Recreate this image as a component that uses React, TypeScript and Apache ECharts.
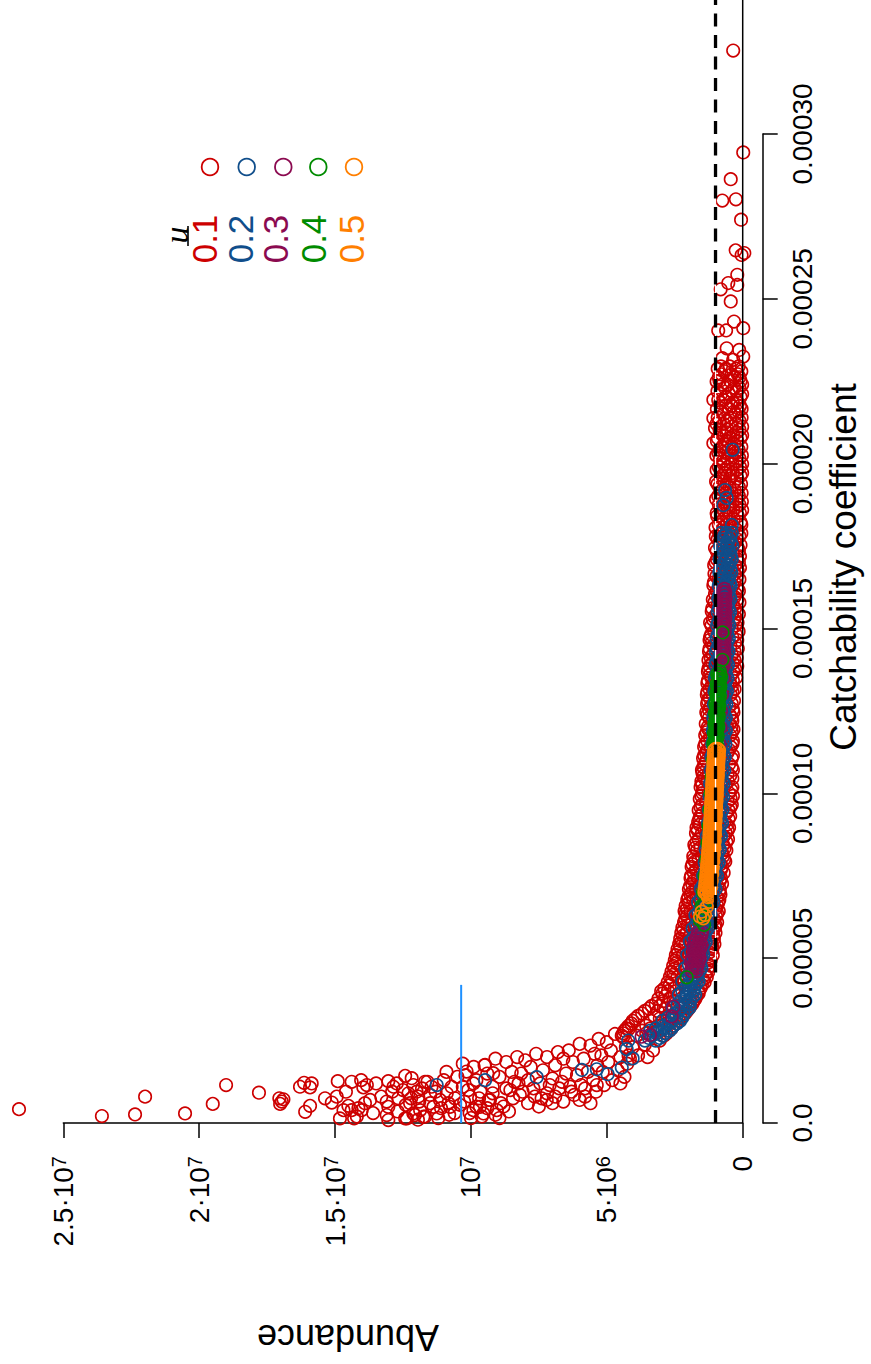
import { useEffect, useRef } from "react";
import * as echarts from "echarts";

// Units: abundance in millions of individuals, catchability in units of 1e-5.
type Pt = [number, number]; // [abundance, catchability]
type Row = [number, number[]]; // [catchability, abundances observed at it]

const FONT = "'Liberation Sans', Arial, Helvetica, sans-serif";

const uLevels = ["0.1", "0.2", "0.3", "0.4", "0.5"];
const uColors = ["#CD0000", "#104E8B", "#8B0A50", "#008B00", "#FF7F00"];

// ---- u = 0.1 ----
const redSparse: Pt[] = [
  [0.35, 32.53], [-0.02, 29.44], [0.44, 28.63], [0.75, 27.98], [0.25, 28.02], [0.06, 27.4],
  [0.26, 26.47], [0.04, 26.33], [-0.06, 26.39], [0.2, 25.73], [0.81, 25.29], [0.53, 25.48],
  [0.2, 25.42], [0.44, 24.92], [0.32, 24.31], [-0.02, 24.11], [0.9, 24.04], [0.61, 24.04],
  [0.59, 23.5], [0.13, 23.45], [-0.02, 23.25], [0.75, 23.2], [0.35, 23.15], [0.96, 22.49],
  [1.08, 21.94], [1.08, 21.38], [1.02, 21.08], [1.08, 20.62],
];
const redRows: Row[] = [
  [22.95, [0.15, 0.48, 0.8]], [22.8, [0.05, 0.66]], [22.62, [0.3, 0.88, 0.12]], [22.4, [0.55, 0.02, 0.74]],
  [22.2, [0.22, 0.93, 0.41]], [22.02, [0.08, 0.63]], [21.85, [0.36, 0.82, 0.18]], [21.66, [0.5, 0.04, 0.95]],
  [21.5, [0.27, 0.7]], [21.3, [0.12, 0.58, 0.86]], [21.12, [0.4, 0.02]], [20.95, [0.22, 0.77, 0.6]],
  [20.78, [0.08, 0.46, 0.92]], [20.6, [0.31, 0.68]], [20.42, [0.15, 0.52, 0.85]], [20.25, [0.03, 0.4, 0.97]],
  [20.08, [0.25, 0.72]], [19.9, [0.1, 0.55, 0.88]], [19.72, [0.36, 0.02, 0.66]], [19.55, [0.2, 0.8, 0.47]],
  [19.38, [0.06, 0.6, 0.93]], [19.2, [0.3, 0.75]], [19.02, [0.14, 0.5, 0.9]], [18.85, [0.03, 0.38, 0.68]],
  [18.68, [0.24, 0.82, 0.56]], [18.5, [0.1, 0.45, 0.96]], [18.32, [0.33, 0.7]], [18.15, [0.05, 0.58, 0.88]],
  [17.98, [0.2, 0.42, 0.77]], [17.8, [0.12, 0.62, 0.99]], [17.62, [0.28, 0.85]], [17.45, [0.18, 0.5, 1.02]],
  [17.28, [0.36, 0.74]], [17.1, [0.2, 0.95, 0.6]], [16.92, [0.28, 0.83, 1.05]], [16.75, [0.18, 0.55]],
  [16.58, [0.4, 0.97, 0.22]], [16.4, [0.7, 1.06, 0.3]], [16.22, [0.19, 0.88]], [16.05, [0.45, 1.02, 0.26]],
  [15.88, [0.62, 0.2, 1.1]], [15.7, [0.35, 0.92]], [15.52, [0.22, 0.8, 1.14]], [15.35, [0.5, 1.05, 0.28]],
  [15.18, [0.19, 0.7, 1.2]], [15.0, [0.4, 0.95]], [14.82, [0.25, 1.16, 0.62]], [14.65, [0.2, 0.85, 1.22]],
  [14.48, [0.45, 1.08]], [14.3, [0.3, 0.7, 1.24]], [14.12, [0.22, 0.98, 1.18]], [13.95, [0.52, 1.12, 0.36]],
  [13.78, [0.28, 0.88, 1.26]], [13.6, [0.42, 1.2]], [13.42, [0.36, 0.75, 1.28]], [13.25, [0.55, 1.15, 0.4]],
  [13.08, [0.38, 0.95, 1.3]], [12.9, [0.62, 1.22]], [12.72, [0.4, 1.05, 1.31]], [12.55, [0.36, 0.8, 1.25]],
  [12.38, [0.48, 1.3, 0.95]], [12.2, [0.38, 1.12]], [12.02, [0.58, 1.28, 0.42]], [11.85, [0.4, 0.9, 1.33]],
  [11.68, [0.65, 1.2]], [11.5, [0.38, 1.08, 1.38]], [11.32, [0.5, 1.3, 0.85]], [11.15, [0.36, 1.18, 1.42]],
  [10.98, [0.7, 1.35]], [10.8, [0.4, 1.0, 1.45]], [10.62, [0.55, 1.25, 1.48]], [10.45, [0.38, 0.92, 1.4]],
  [10.28, [0.62, 1.5]], [10.1, [0.42, 1.15, 1.46]], [9.92, [0.36, 0.8, 1.52]], [9.75, [0.55, 1.35]],
  [9.58, [0.45, 1.05, 1.55]], [9.4, [0.6, 1.48, 1.25]], [9.22, [0.52, 1.6]], [9.05, [0.58, 0.95, 1.58]],
  [8.88, [0.55, 1.4, 1.66]], [8.7, [0.7, 1.25]], [8.52, [0.6, 1.12, 1.7]], [8.35, [0.66, 1.55, 1.74]],
  [8.18, [0.75, 1.3]], [8.0, [0.68, 1.62, 1.8]], [7.85, [0.82, 1.45, 1.85]], [7.68, [0.8, 1.72]],
  [7.5, [0.88, 1.35, 1.9]], [7.35, [0.84, 1.8]], [7.18, [0.92, 1.58, 1.94]], [7.0, [0.86, 1.88, 1.25]],
  [6.85, [0.95, 1.7, 2.0]], [6.68, [0.9, 1.98]], [6.5, [1.0, 1.55, 2.05]], [6.35, [0.94, 2.1, 1.8]],
  [6.18, [1.05, 1.65, 2.12]], [6.0, [1.0, 2.02]], [5.85, [1.1, 1.75, 2.18]], [5.68, [1.08, 2.2, 1.95]],
  [5.5, [1.15, 1.62, 2.25]], [5.35, [1.12, 2.3]], [5.18, [1.22, 1.85, 2.38]], [5.0, [1.2, 2.42, 2.05]],
  [4.85, [1.3, 1.7, 2.45]], [4.68, [1.28, 2.5]], [4.5, [1.38, 2.1, 2.55]], [4.35, [1.45, 2.6, 2.25]],
  [4.18, [1.5, 1.98, 2.68]], [4.0, [1.62, 2.75, 3.0]], [3.85, [1.7, 2.35, 2.85]], [3.7, [1.8, 2.92, 2.55]],
  [3.55, [1.92, 2.4, 3.05, 3.35]], [3.4, [2.05, 2.6, 3.12, 3.6]], [3.25, [2.2, 2.7, 3.25, 3.85]],
  [3.1, [2.35, 2.95, 3.4, 4.05]], [2.95, [2.55, 3.1, 3.55, 4.2]], [2.8, [2.7, 3.7, 4.35]],
  [2.65, [2.9, 3.35, 3.9, 4.45]],
];
const redRowsB: Row[] = [
  [22.88, [0.25, 0.62, 0.92]], [22.71, [0.4, 0.78, 0.18]], [22.51, [0.08, 0.46, 0.85]], [22.3, [0.3, 0.65, 0.12]],
  [22.11, [0.5, 0.8, 0.02]], [21.93, [0.24, 0.7, 0.9]], [21.75, [0.1, 0.62, 0.42]], [21.58, [0.32, 0.78, 0.16]],
  [21.4, [0.04, 0.45, 0.92]], [21.21, [0.25, 0.7, 0.96]], [21.03, [0.12, 0.55, 0.85]], [20.86, [0.35, 0.02, 0.68]],
  [20.69, [0.2, 0.58, 0.95]], [20.51, [0.05, 0.4, 0.76]], [20.33, [0.28, 0.65, 0.9]], [20.16, [0.12, 0.55, 0.84]],
  [19.99, [0.38, 0.02, 0.7]], [19.81, [0.22, 0.62, 0.96]], [19.63, [0.08, 0.44, 0.75]], [19.46, [0.3, 0.68, 0.98]],
  [19.29, [0.14, 0.48, 0.86]], [19.11, [0.04, 0.62, 0.4]], [18.93, [0.24, 0.78, 0.98]], [18.76, [0.12, 0.5, 0.88]],
  [18.59, [0.35, 0.7, 0.02]], [18.41, [0.18, 0.6, 0.94]], [18.23, [0.08, 0.46, 0.8]], [18.06, [0.3, 0.7, 1.0]],
  [17.89, [0.05, 0.5, 0.86]], [17.71, [0.22, 0.4, 0.92]], [17.53, [0.08, 0.68, 0.35]], [17.36, [0.14, 0.58, 0.96]],
  [17.19, [0.1, 0.46, 0.82]], [17.01, [0.14, 0.52, 1.0]], [16.84, [0.4, 0.7, 0.1]], [16.66, [0.3, 0.78, 1.04]],
  [16.49, [0.12, 0.5, 0.88]], [16.31, [0.36, 0.6, 1.08]], [16.14, [0.14, 0.74, 0.95]], [15.96, [0.3, 0.52, 0.86]],
  [15.79, [0.12, 0.45, 1.04]], [15.61, [0.28, 0.66, 1.12]], [15.44, [0.14, 0.4, 0.96]], [15.27, [0.32, 0.88, 1.1]],
  [15.09, [0.26, 0.55, 1.15]], [14.91, [0.15, 0.8, 1.05]], [14.74, [0.38, 0.7, 1.2]], [14.56, [0.28, 0.95, 1.15]],
  [14.39, [0.18, 0.6, 1.22]], [14.21, [0.4, 0.85, 1.1]], [14.04, [0.3, 0.7, 1.26]], [13.86, [0.2, 1.0, 1.22]],
  [13.69, [0.34, 0.66, 1.28]], [13.51, [0.24, 0.92, 1.16]], [13.34, [0.46, 1.05, 1.3]], [13.16, [0.3, 0.7, 1.22]],
  [12.99, [0.44, 1.1, 1.32]], [12.81, [0.32, 0.9, 1.28]], [12.63, [0.5, 1.18, 0.7]], [12.46, [0.34, 1.08, 1.34]],
  [12.29, [0.4, 0.7, 1.24]], [12.11, [0.48, 1.05, 1.36]], [11.94, [0.34, 0.72, 1.26]], [11.76, [0.46, 1.12, 1.38]],
  [11.59, [0.36, 0.82, 1.3]], [11.41, [0.44, 1.18, 1.42]], [11.23, [0.56, 0.98, 1.35]], [11.06, [0.4, 1.12, 1.46]],
  [10.89, [0.5, 0.86, 1.4]], [10.71, [0.36, 1.15, 1.5]], [10.53, [0.46, 1.05, 1.44]], [10.36, [0.54, 1.3, 1.52]],
  [10.19, [0.38, 0.86, 1.55]], [10.01, [0.5, 1.25, 1.48]], [9.83, [0.44, 1.1, 1.58]], [9.66, [0.4, 0.92, 1.5]],
  [9.49, [0.52, 1.3, 1.62]], [9.31, [0.46, 0.88, 1.56]], [9.13, [0.66, 1.38, 1.64]], [8.96, [0.5, 1.1, 1.7]],
  [8.79, [0.62, 1.5, 1.72]], [8.61, [0.54, 0.98, 1.62]], [8.44, [0.72, 1.4, 1.78]], [8.27, [0.6, 1.2, 1.68]],
  [8.09, [0.72, 1.5, 1.82]], [7.93, [0.64, 1.3, 1.76]], [7.77, [0.76, 1.58, 1.88]], [7.59, [0.7, 1.22, 1.8]],
  [7.43, [0.8, 1.65, 1.92]], [7.26, [0.76, 1.45, 1.86]], [7.09, [0.84, 1.72, 1.98]], [6.93, [0.82, 1.5, 1.92]],
  [6.77, [0.86, 1.82, 2.04]], [6.59, [0.94, 1.65, 2.1]], [6.43, [0.88, 1.92, 2.14]], [6.27, [0.98, 1.55, 2.06]],
  [6.09, [0.94, 1.86, 2.16]], [5.93, [1.02, 1.68, 2.22]], [5.77, [1.0, 2.06, 2.26]], [5.59, [1.06, 1.85, 2.3]],
  [5.43, [1.04, 2.1, 2.34]], [5.27, [1.12, 1.7, 2.4]], [5.09, [1.1, 2.2, 2.46]], [4.93, [1.18, 1.95, 2.5]],
  [4.77, [1.2, 2.3, 2.56]], [4.59, [1.26, 1.9, 2.62]], [4.43, [1.32, 2.4, 2.68]], [4.27, [1.4, 2.15, 2.76]],
  [4.09, [1.55, 2.5, 2.88]], [3.93, [1.62, 2.1, 2.95]], [3.77, [1.74, 2.7, 3.1]], [3.62, [1.85, 2.2, 3.2]],
  [3.47, [1.98, 2.85, 3.45]], [3.32, [2.12, 2.5, 3.7]], [3.17, [2.28, 3.05, 3.95]], [3.02, [2.45, 2.8, 4.1]],
  [2.87, [2.62, 3.4, 4.28]], [2.72, [2.8, 3.55, 4.4]],
];
const redTail: Pt[] = [
  [3.05, 2.5], [3.6, 2.38], [4.05, 2.3], [3.3, 2.2], [3.85, 2.05], [4.15, 1.95], [3.5, 2.0],
  [4.2, 2.85], [4.4, 2.6], [4.7, 2.7], [5.0, 2.45], [4.3, 2.3], [4.85, 2.2], [5.2, 2.05], [4.5, 2.0],
  [4.25, 1.8], [4.95, 1.85], [4.6, 1.6], [5.15, 1.55], [4.35, 1.4], [4.8, 1.3], [5.1, 1.15], [4.5, 1.2], [4.2, 2.05],
  [5.3, 2.55], [5.6, 2.35], [6.0, 2.4], [6.4, 2.2], [5.45, 2.1], [5.85, 1.95], [6.25, 1.85], [6.6, 1.95],
  [5.35, 1.75], [5.7, 1.55], [6.1, 1.45], [6.5, 1.5], [5.5, 1.3], [5.95, 1.15], [6.35, 1.1], [6.65, 1.25],
  [5.4, 0.95], [5.8, 0.8], [6.2, 0.85], [5.37, 1.15], [7.21, 0.7],
  [6.8, 2.15], [7.2, 2.0], [7.6, 2.1], [8.0, 1.9], [6.9, 1.75], [7.35, 1.6], [7.8, 1.7], [8.15, 1.5],
  [7.0, 1.35], [7.45, 1.2], [7.9, 1.3], [6.75, 1.05], [7.2, 0.9], [7.65, 0.8], [8.1, 0.95], [7.0, 0.6], [7.5, 0.5],
  [8.3, 2.0], [8.7, 1.85], [9.1, 1.95], [9.5, 1.75], [9.9, 1.7], [10.3, 1.8], [8.5, 1.55], [8.95, 1.4],
  [9.4, 1.5], [9.8, 1.3], [10.2, 1.45], [8.25, 1.2], [8.7, 1.05], [9.2, 1.1], [9.65, 0.95], [10.1, 1.0],
  [8.45, 0.75], [8.9, 0.6], [9.35, 0.7], [9.8, 0.5], [10.25, 0.65], [8.6, 0.35], [9.1, 0.25], [9.6, 0.2], [10.05, 0.3],
  [10.16, 1.56], [9.91, 1.2], [9.48, 1.76], [9.18, 1.51], [10.03, 0.8], [9.67, 0.49], [9.3, 0.7], [9.05, 0.39],
  [9.91, 0.39], [9.54, 0.29],
  [12.36, 0.14], [12.12, 0.29], [11.87, 0.39], [11.69, 0.19], [11.38, 0.49], [11.14, 0.7], [10.89, 0.9],
  [10.71, 1.1], [10.83, 0.6], [10.59, 0.75], [11.26, 0.29], [10.77, 0.49], [12.0, 0.95], [11.6, 1.25],
  [11.9, 0.65], [12.4, 0.55], [11.5, 0.85], [11.0, 1.3], [11.2, 0.15], [10.6, 0.3], [10.5, 1.4], [10.9, 1.55],
  [13.04, 1.27], [12.73, 1.2], [12.42, 1.43], [12.18, 1.36], [12.12, 1.15], [12.67, 0.75], [12.3, 0.9],
  [11.94, 0.8], [12.24, 0.6], [12.42, 0.14], [12.06, 0.24], [11.75, 0.19], [11.69, 1.25], [13.1, 0.65],
  [13.04, 0.49], [13.1, 0.24], [13.04, 0.09],
  [14.82, 0.14], [14.69, 0.39], [14.51, 0.52], [14.39, 0.39], [14.3, 0.14], [14.14, 0.45], [14.02, 0.39],
  [14.39, 1.25], [14.04, 1.3], [13.96, 1.08], [13.83, 1.15], [13.49, 1.2], [13.71, 0.7], [14.9, 1.27],
  [15.37, 0.75], [15.12, 0.62], [14.94, 0.8],
  [16.29, 1.1], [16.14, 1.22], [15.86, 1.2], [15.92, 1.08], [16.1, 0.34], [15.92, 0.52], [17.05, 0.75],
  [16.96, 0.65], [17.02, 0.58], [16.9, 0.72], [17.8, 0.92], [19.01, 1.15], [19.5, 0.58], [20.52, 0.29],
  [21.99, 0.8], [22.36, 0.26], [23.58, 0.21], [26.63, 0.42],
];
const redTailB: Pt[] = [
  [12.5, 1.0], [12.2, 0.75], [11.8, 1.05], [11.5, 0.6], [11.3, 0.95], [11.1, 0.45], [10.8, 0.25], [10.4, 0.55],
  [10.3, 1.1], [10.0, 0.15], [9.7, 0.75], [9.4, 0.45], [9.2, 0.9], [8.95, 0.15], [8.8, 0.5], [8.55, 1.0],
  [12.7, 0.35], [12.9, 0.95], [11.95, 0.1], [11.45, 1.1],
  [8.4, 1.25], [8.2, 0.85], [7.9, 0.6], [7.7, 1.05], [7.4, 0.75], [7.1, 1.15], [6.9, 0.8], [6.6, 0.65],
  [6.3, 0.95], [6.0, 0.7], [5.8, 1.05], [5.6, 0.6],
  [13.3, 0.8], [13.6, 0.3], [13.9, 0.6], [12.85, 1.1], [14.6, 0.95], [14.2, 0.2],
];

// ---- u = 0.2 ----
const blueSparse: Pt[] = [
  [0.37, 20.42], [0.65, 19.2], [0.59, 18.96], [0.71, 18.74], [0.4, 18.14],
  [4.21, 2.5], [4.27, 2.24], [4.05, 1.96], [4.45, 1.68], [4.97, 1.48], [5.37, 1.63], [5.92, 1.61],
  [7.58, 1.39], [9.48, 1.3], [11.26, 1.15],
];
const blueRows: Row[] = [
  [17.9, [0.4, 0.6, 0.8]], [17.7, [0.5, 0.72]], [17.5, [0.38, 0.6, 0.83]], [17.3, [0.48, 0.7]],
  [17.1, [0.4, 0.62, 0.85]], [16.9, [0.52, 0.74]], [16.7, [0.42, 0.64, 0.86]], [16.5, [0.54, 0.76]],
  [16.3, [0.44, 0.65, 0.88]], [16.1, [0.55, 0.78]], [15.9, [0.45, 0.67, 0.9]], [15.7, [0.56, 0.8]],
  [15.5, [0.47, 0.69, 0.92]], [15.3, [0.58, 0.82]], [15.1, [0.49, 0.71, 0.94]], [14.9, [0.6, 0.84]],
  [14.7, [0.51, 0.73, 0.96]], [14.5, [0.62, 0.86]], [14.3, [0.52, 0.75, 0.98]], [14.1, [0.64, 0.88]],
  [13.9, [0.54, 0.77, 1.0]], [13.7, [0.66, 0.9]], [13.5, [0.56, 0.79, 1.02]], [13.3, [0.68, 0.92]],
  [13.1, [0.58, 0.81, 1.04]], [12.9, [0.7, 0.94]], [12.7, [0.6, 0.83, 1.06]], [12.5, [0.72, 0.96]],
  [12.3, [0.62, 0.85, 1.08]], [12.1, [0.74, 0.98]], [11.9, [0.62, 0.86, 1.1]], [11.7, [0.75, 1.0]],
  [11.5, [0.64, 0.88, 1.12]], [11.3, [0.77, 1.02]], [11.1, [0.66, 0.9, 1.15]], [10.9, [0.79, 1.04]],
  [10.7, [0.68, 0.92, 1.18]], [10.5, [0.81, 1.06]], [10.3, [0.7, 0.94, 1.2]], [10.1, [0.83, 1.08]],
  [9.9, [0.72, 0.97, 1.22]], [9.7, [0.85, 1.1]], [9.5, [0.74, 1.0, 1.25]], [9.3, [0.87, 1.13]],
  [9.1, [0.76, 1.02, 1.28]], [8.9, [0.9, 1.16]], [8.7, [0.8, 1.05, 1.32]], [8.5, [0.93, 1.2]],
  [8.3, [0.84, 1.1, 1.36]], [8.1, [0.98, 1.25]], [7.9, [0.88, 1.14, 1.4]], [7.7, [1.02, 1.3]],
  [7.5, [0.94, 1.2, 1.46]], [7.3, [1.08, 1.36]], [7.1, [1.0, 1.27, 1.54]], [6.9, [1.15, 1.44]],
  [6.7, [1.08, 1.36, 1.64]], [6.5, [1.24, 1.54]], [6.3, [1.18, 1.46, 1.74]], [6.1, [1.34, 1.64]],
  [5.9, [1.28, 1.56, 1.84]], [5.7, [1.42, 1.72]], [5.5, [1.36, 1.65, 1.94]], [5.3, [1.5, 1.8]],
  [5.1, [1.45, 1.74, 2.04]], [4.9, [1.58, 1.88]], [4.7, [1.52, 1.82, 2.12]], [4.5, [1.68, 1.98]],
  [4.3, [1.62, 1.92, 2.22]], [4.1, [1.78, 2.1]], [3.9, [1.75, 2.05, 2.35]], [3.7, [1.95, 2.28]],
  [3.5, [1.95, 2.25, 2.58]], [3.3, [2.18, 2.52]], [3.1, [2.3, 2.62, 2.95]], [2.95, [2.55, 2.9]],
  [2.8, [2.7, 3.05, 3.4]], [2.65, [2.95, 3.35]], [2.5, [3.2, 3.6]],
];
const blueRowsB: Row[] = [
  [17.8, [0.45, 0.68]], [17.6, [0.42, 0.55, 0.78]], [17.4, [0.52, 0.74]], [17.2, [0.44, 0.58, 0.8]],
  [17.0, [0.48, 0.7]], [16.8, [0.46, 0.6, 0.82]], [16.6, [0.5, 0.72]], [16.4, [0.48, 0.6, 0.84]],
  [16.2, [0.5, 0.73]], [16.0, [0.5, 0.62, 0.86]], [15.8, [0.52, 0.76]], [15.6, [0.52, 0.64, 0.88]],
  [15.4, [0.53, 0.77]], [15.2, [0.54, 0.66, 0.9]], [15.0, [0.55, 0.79]], [14.8, [0.56, 0.68, 0.92]],
  [14.6, [0.57, 0.81]], [14.4, [0.58, 0.7, 0.94]], [14.2, [0.58, 0.83]], [14.0, [0.6, 0.72, 0.96]],
  [13.8, [0.6, 0.85]], [13.6, [0.62, 0.74, 0.98]], [13.4, [0.62, 0.87]], [13.2, [0.64, 0.76, 1.0]],
  [13.0, [0.64, 0.89]], [12.8, [0.66, 0.78, 1.02]], [12.6, [0.66, 0.91]], [12.4, [0.68, 0.8, 1.04]],
  [12.2, [0.68, 0.93]], [12.0, [0.7, 0.82, 1.06]], [11.8, [0.68, 0.94]], [11.6, [0.7, 0.84, 1.08]],
  [11.4, [0.71, 0.96]], [11.2, [0.72, 0.86, 1.1]], [11.0, [0.73, 0.98]], [10.8, [0.74, 0.88, 1.12]],
  [10.6, [0.75, 1.0]], [10.4, [0.76, 0.9, 1.14]], [10.2, [0.77, 1.02]], [10.0, [0.78, 0.92, 1.16]],
  [9.8, [0.79, 1.04]], [9.6, [0.8, 0.94, 1.18]], [9.4, [0.81, 1.06]], [9.2, [0.82, 0.97, 1.22]],
  [9.0, [0.84, 1.1]], [8.8, [0.86, 1.0, 1.26]], [8.6, [0.88, 1.14]], [8.4, [0.9, 1.04, 1.3]],
  [8.2, [0.92, 1.18]], [8.0, [0.94, 1.08, 1.34]], [7.8, [0.96, 1.24]], [7.6, [1.0, 1.14, 1.4]],
  [7.4, [1.02, 1.3]], [7.2, [1.06, 1.2, 1.46]], [7.0, [1.08, 1.36]], [6.8, [1.12, 1.28, 1.54]],
  [6.6, [1.16, 1.44]], [6.4, [1.22, 1.38, 1.62]], [6.2, [1.26, 1.54]], [6.0, [1.32, 1.48, 1.72]],
  [5.8, [1.36, 1.64]], [5.6, [1.4, 1.56, 1.82]], [5.4, [1.44, 1.72]], [5.2, [1.48, 1.64, 1.9]],
  [5.0, [1.52, 1.8]], [4.8, [1.56, 1.72, 1.98]], [4.6, [1.6, 1.88]], [4.4, [1.66, 1.8, 2.06]],
  [4.2, [1.72, 1.98]], [4.0, [1.8, 1.94, 2.22]], [3.8, [1.86, 2.12]], [3.6, [1.95, 2.1, 2.4]],
  [3.4, [2.08, 2.35]], [3.2, [2.22, 2.45, 2.75]], [3.02, [2.42, 2.7]], [2.87, [2.62, 2.88, 3.2]],
  [2.72, [2.85, 3.18]], [2.58, [3.05, 3.45]],
];

// ---- u = 0.3 ----
const purpleSparse: Pt[] = [[1.88, 4.74], [2.55, 3.53], [2.61, 3.23], [3.72, 2.62], [3.41, 2.67]];
const purpleRows: Row[] = [
  [16.2, [0.68]], [16.1, [0.64, 0.72]], [16.0, [0.67]], [15.9, [0.63, 0.71]], [15.8, [0.66]],
  [15.7, [0.64, 0.73]], [15.6, [0.68]], [15.5, [0.64, 0.72]], [15.4, [0.67]], [15.3, [0.64, 0.74]],
  [15.2, [0.69]], [15.1, [0.65, 0.73]], [15.0, [0.7]], [14.9, [0.66, 0.74]], [14.8, [0.7]],
  [14.7, [0.66, 0.75]], [14.6, [0.71]], [14.5, [0.67, 0.76]], [14.4, [0.72]], [14.3, [0.68, 0.76]],
  [14.2, [0.72]], [14.1, [0.68, 0.77]], [14.0, [0.73]], [13.9, [0.7, 0.78]], [13.8, [0.74]],
  [13.5, [0.7, 0.82]], [13.0, [0.76, 0.88]], [12.5, [0.8, 0.92]], [12.0, [0.82, 0.95]], [11.5, [0.86, 0.98]],
  [11.0, [0.9, 1.02]], [10.5, [0.92, 1.05]], [10.0, [0.96, 1.08]], [9.5, [1.0, 1.12]], [9.0, [1.04, 1.16]],
  [8.5, [1.08, 1.2]], [8.0, [1.12, 1.25]], [7.5, [1.18, 1.3]],
  [5.8, [1.5, 1.64]], [5.7, [1.52, 1.66]], [5.6, [1.56, 1.72]],
  [5.5, [1.58, 1.74]], [5.4, [1.52, 1.66, 1.8]], [5.3, [1.56, 1.7, 1.82]], [5.2, [1.6, 1.76]],
  [5.1, [1.64, 1.8]], [5.0, [1.58, 1.72, 1.86]], [4.9, [1.62, 1.76, 1.9]], [4.8, [1.66, 1.82]],
  [4.7, [1.7, 1.84]], [4.6, [1.7, 1.86]],
];

// ---- u = 0.4 ----
const greenSparse: Pt[] = [[0.74, 14.88], [0.75, 14.05], [2.06, 4.42], [1.57, 6.16], [1.47, 6.31], [1.42, 6.01]];
const greenRows: Row[] = [
  [13.7, [0.84]], [13.62, [0.86, 0.94]], [13.55, [0.8, 0.9]], [13.47, [0.82, 0.9]], [13.4, [0.86]],
  [13.32, [0.88, 0.96]], [13.25, [0.82, 0.93]], [13.17, [0.84, 0.92]], [13.1, [0.88]], [13.02, [0.9, 0.98]],
  [12.95, [0.84, 0.95]], [12.87, [0.86, 0.94]], [12.8, [0.9]], [12.72, [0.92, 1.0]], [12.65, [0.86, 0.97]],
  [12.57, [0.88, 0.96]], [12.5, [0.92]], [12.42, [0.94, 1.02]], [12.35, [0.88, 0.99]], [12.27, [0.9, 0.98]],
  [12.2, [0.94]], [12.12, [0.96, 1.04]], [12.05, [0.9, 1.01]], [11.97, [0.92, 1.0]], [11.9, [0.96]],
  [11.82, [0.98, 1.06]], [11.75, [0.92, 1.03]], [11.67, [0.94, 1.02]], [11.6, [0.98]], [11.52, [1.0, 1.08]],
  [11.45, [0.94, 1.05]], [11.37, [0.96, 1.04]], [11.3, [1.0]], [11.0, [1.02, 1.1]], [10.5, [1.06, 1.14]],
  [10.0, [1.1, 1.18]], [9.5, [1.14, 1.22]], [9.0, [1.18, 1.26]], [8.5, [1.22, 1.3]], [8.0, [1.26, 1.34]],
  [7.5, [1.3, 1.4]], [7.0, [1.36, 1.46]], [6.6, [1.42, 1.5]],
];

// ---- u = 0.5 ----
const orangeSparse: Pt[] = [[1.51, 6.41], [1.39, 6.31], [1.32, 6.56], [1.23, 6.71], [1.2, 6.87], [1.45, 6.21], [1.57, 6.26]];
const orangeRows: Row[] = [
  [11.35, [0.92, 1.0]], [11.3, [0.87, 1.05]], [11.25, [0.96]], [11.2, [0.88, 1.06]], [11.15, [0.9, 1.02]],
  [11.1, [0.88, 1.06]], [11.05, [0.97]], [11.0, [0.89, 1.07]], [10.95, [0.91, 1.03]], [10.9, [0.9, 1.08]],
  [10.85, [0.98]], [10.8, [0.9, 1.08]], [10.75, [0.92, 1.04]], [10.7, [0.91, 1.09]], [10.65, [0.98]],
  [10.6, [0.92, 1.1]], [10.55, [0.93, 1.05]], [10.5, [0.92, 1.1]], [10.45, [0.99]], [10.4, [0.93, 1.11]],
  [10.35, [0.94, 1.06]], [10.3, [0.94, 1.12]], [10.25, [1.0]], [10.2, [0.94, 1.12]], [10.15, [0.95, 1.07]],
  [10.1, [0.95, 1.13]], [10.05, [1.01]], [10.0, [0.96, 1.14]], [9.95, [0.96, 1.08]], [9.9, [0.96, 1.14]],
  [9.85, [1.02]], [9.8, [0.97, 1.15]], [9.75, [0.97, 1.09]], [9.7, [0.98, 1.16]], [9.65, [1.03]],
  [9.6, [0.98, 1.16]], [9.55, [0.98, 1.1]], [9.5, [0.99, 1.17]], [9.45, [1.04]], [9.4, [1.0, 1.18]],
  [9.35, [0.99, 1.11]], [9.3, [1.0, 1.18]], [9.25, [1.05]], [9.2, [1.01, 1.19]], [9.15, [1.0, 1.12]],
  [9.1, [1.02, 1.2]], [9.05, [1.06]], [9.0, [1.02, 1.2]], [8.95, [1.01, 1.13]], [8.9, [1.03, 1.21]],
  [8.85, [1.07]], [8.8, [1.04, 1.22]], [8.75, [1.02, 1.14]], [8.7, [1.04, 1.22]], [8.65, [1.08]],
  [8.6, [1.05, 1.23]], [8.55, [1.03, 1.15]], [8.5, [1.06, 1.24]], [8.45, [1.09]], [8.4, [1.07, 1.25]],
  [8.35, [1.04, 1.17]], [8.3, [1.08, 1.26]], [8.25, [1.11]], [8.2, [1.09, 1.27]], [8.15, [1.06, 1.19]],
  [8.1, [1.1, 1.28]], [8.05, [1.13]], [8.0, [1.11, 1.29]], [7.95, [1.08, 1.21]], [7.9, [1.12, 1.3]],
  [7.85, [1.15]], [7.8, [1.13, 1.31]], [7.75, [1.1, 1.23]], [7.7, [1.14, 1.32]], [7.65, [1.17]],
  [7.6, [1.15, 1.33]], [7.55, [1.12, 1.25]], [7.5, [1.16, 1.34]], [7.45, [1.19]], [7.4, [1.17, 1.35]],
  [7.35, [1.14, 1.28]], [7.3, [1.19, 1.37]], [7.25, [1.22]], [7.2, [1.2, 1.38]], [7.15, [1.17, 1.31]],
  [7.1, [1.22, 1.4]], [7.05, [1.25]], [7.0, [1.23, 1.41]], [6.95, [1.2, 1.34]], [6.85, [1.28]],
];

// Reference lines (abundance in millions)
const zeroAbundance = 0;
const thresholdAbundance = 1.0;
const initialAbundance = 10.36;
const initialSegmentTop = 4.19;
const lineTop = 34.5;

const abundanceTicks = [0, 5, 10, 15, 20, 25];
const abundanceTickLabels = [
  "{b|0}", "{b|5\u00B710}{s|6}", "{b|10}{s|7}", "{b|1.5\u00B710}{s|7}", "{b|2\u00B710}{s|7}", "{b|2.5\u00B710}{s|7}",
];
const catchTicks = [0, 5, 10, 15, 20, 25, 30];
const catchTickLabels = ["0.0", "0.00005", "0.00010", "0.00015", "0.00020", "0.00025", "0.00030"];

const rowsToPoints = (rows: Row[]): Pt[] => rows.flatMap(([q, list]) => list.map((a) => [a, q] as Pt));

const seriesPoints: Pt[][] = [
  [...redSparse, ...rowsToPoints(redRows), ...rowsToPoints(redRowsB), ...redTail, ...redTailB],
  [...blueSparse, ...rowsToPoints(blueRows), ...rowsToPoints(blueRowsB)],
  [...purpleSparse, ...rowsToPoints(purpleRows)],
  [...greenSparse, ...rowsToPoints(greenRows)],
  [...orangeSparse, ...rowsToPoints(orangeRows)],
];

const legendCircleX = [210, 246.7, 283.3, 318.3, 354];
const legendLabelX = [204.5, 240, 275.5, 313.5, 351];

function buildOption(): echarts.EChartsCoreOption {
  const scatter = seriesPoints.map((pts, i) => ({
    type: "scatter",
    name: uLevels[i],
    data: pts,
    symbol: "circle",
    symbolSize: 12.5,
    itemStyle: { color: "rgba(0,0,0,0)", borderColor: uColors[i], borderWidth: 1.6, opacity: 1 },
    clip: false,
    silent: true,
    progressive: 0,
    emphasis: { disabled: true },
    z: 2,
  }));

  const vline = (a: number, top: number, lineStyle: object) => ({
    type: "line",
    data: [[a, 0], [a, top]],
    symbol: "none",
    clip: false,
    silent: true,
    lineStyle,
    emphasis: { disabled: true },
    z: 3,
  });

  return {
    animation: false,
    backgroundColor: "#ffffff",
    grid: { left: 63.3, right: 128.3, top: 134, bottom: 241, containLabel: false },
    xAxis: {
      type: "value",
      min: 0,
      max: 25,
      interval: 5,
      inverse: true,
      position: "bottom",
      axisLine: { show: true, onZero: false, lineStyle: { color: "#000", width: 1.5 } },
      axisTick: { show: true, length: 15, lineStyle: { color: "#000", width: 1.5 } },
      splitLine: { show: false },
      axisLabel: {
        rotate: 90,
        margin: 33,
        color: "#000",
        formatter: (v: number) => abundanceTickLabels[abundanceTicks.indexOf(Math.round(v))] ?? "",
        rich: {
          b: { fontSize: 28, fontFamily: FONT, color: "#000", verticalAlign: "bottom" },
          s: { fontSize: 20, fontFamily: FONT, color: "#000", verticalAlign: "top" },
        },
      },
    },
    yAxis: {
      type: "value",
      min: 0,
      max: 30,
      interval: 5,
      position: "right",
      offset: 20,
      axisLine: { show: true, onZero: false, lineStyle: { color: "#000", width: 1.5 } },
      axisTick: { show: true, length: 15, lineStyle: { color: "#000", width: 1.5 } },
      splitLine: { show: false },
      axisLabel: {
        rotate: 90,
        margin: 26,
        fontSize: 28,
        fontFamily: FONT,
        color: "#000",
        formatter: (v: number) => catchTickLabels[catchTicks.indexOf(Math.round(v))] ?? "",
      },
    },
    series: [
      ...scatter,
      vline(thresholdAbundance, lineTop, { color: "#ffffff", width: 1.2, type: "solid" }),
      vline(thresholdAbundance, lineTop, { color: "#000000", width: 3.3, type: [13, 8.5] }),
      vline(zeroAbundance, lineTop, { color: "#000000", width: 1.5, type: "solid" }),
      vline(initialAbundance, initialSegmentTop, { color: "#1E90FF", width: 2, type: "solid" }),
    ],
    graphic: [
      ...uLevels.map((_, i) => ({
        type: "circle",
        shape: { cx: legendCircleX[i], cy: 167, r: 8.3 },
        style: { fill: "none", stroke: uColors[i], lineWidth: 1.8 },
        silent: true,
      })),
      ...uLevels.map((lab, i) => ({
        type: "text",
        x: legendLabelX[i],
        y: 239,
        rotation: Math.PI / 2,
        style: { text: lab, fill: uColors[i], fontSize: 35, fontFamily: FONT, align: "center", verticalAlign: "middle" },
        silent: true,
      })),
      {
        type: "text",
        x: 176,
        y: 235,
        rotation: Math.PI / 2,
        style: {
          text: "u",
          fill: "#000",
          fontSize: 34,
          fontStyle: "italic",
          fontFamily: "'Liberation Serif', 'DejaVu Serif', serif",
          align: "center",
          verticalAlign: "middle",
        },
        silent: true,
      },
      { type: "line", shape: { x1: 188, y1: 226, x2: 188, y2: 246 }, style: { stroke: "#000", lineWidth: 1.6 }, silent: true },
      {
        type: "text",
        x: 843,
        y: 567,
        rotation: Math.PI / 2,
        style: { text: "Catchability coefficient", fill: "#000", fontSize: 37, fontFamily: FONT, align: "center", verticalAlign: "middle" },
        silent: true,
      },
      {
        type: "text",
        x: 348,
        y: 1337,
        rotation: Math.PI,
        style: { text: "Abundance", fill: "#000", fontSize: 36, fontFamily: FONT, align: "center", verticalAlign: "middle" },
        silent: true,
      },
    ],
  };
}

export default function App() {
  const ref = useRef<HTMLDivElement>(null);
  useEffect(() => {
    if (!ref.current) return;
    const chart = echarts.init(ref.current, undefined, { renderer: "svg" });
    chart.setOption(buildOption());
    return () => chart.dispose();
  }, []);
  return (
    <div
      ref={ref}
      style={{ position: "absolute", left: 0, top: 0, width: "871px", height: "1364px", background: "#fff" }}
    />
  );
}
